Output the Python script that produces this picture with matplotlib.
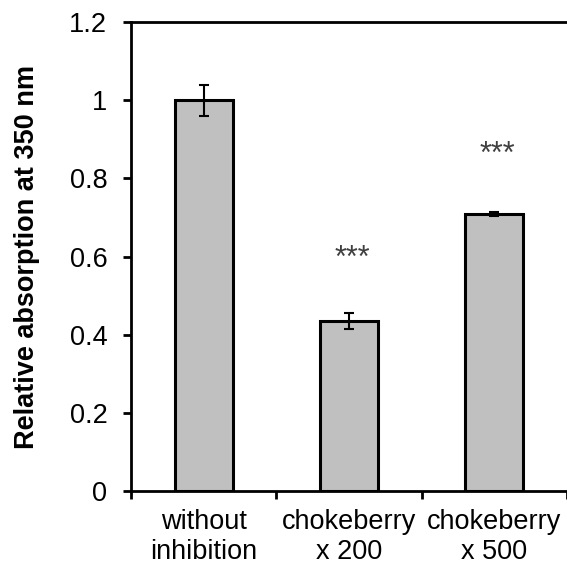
import numpy as np
import matplotlib.pyplot as plt

plt.rcParams['font.family'] = ['Liberation Sans', 'DejaVu Sans']

groups = ["without\ninhibition", "chokeberry\nx 200", "chokeberry\nx 500"]
means = [1.0, 0.435, 0.709]
errors = [0.04, 0.021, 0.004]
stars = ["", "***", "***"]
star_y = [None, 0.595, 0.86]

fig = plt.figure(figsize=(5.67, 5.67), dpi=100)
ax = fig.add_axes([0.231, 0.134, 0.769, 0.827])

x = np.arange(len(groups))
ax.bar(x, means, width=0.4, color="#c0c0c0", edgecolor="black", linewidth=2.2,
       yerr=errors, error_kw=dict(ecolor="black", elinewidth=1.5, capsize=3.8, capthick=1.5),
       zorder=2)

for xi, s, yy in zip(x, stars, star_y):
    if s:
        ax.text(xi + 0.02, yy, s, ha="center", va="center", fontsize=22, color="#404040")

ax.set_xlim(-0.5, 2.5)
ax.set_ylim(0, 1.2)
ax.set_yticks([0, 0.2, 0.4, 0.6, 0.8, 1.0, 1.2])
ax.set_yticklabels(["0", "0.2", "0.4", "0.6", "0.8", "1", "1.2"])
ax.set_xticks(x)
ax.set_xticklabels(groups, fontsize=19.5, linespacing=1.2)
ax.set_xticks([-0.5, 0.5, 1.5, 2.5], minor=True)
ax.tick_params(axis="x", which="major", length=0, pad=13)
ax.tick_params(axis="x", which="minor", length=6, width=2, direction="out")
ax.tick_params(axis="y", length=6, width=2, direction="out", labelsize=19.5, pad=11)

ax.set_ylabel("Relative absorption at 350 nm", fontsize=19.5, fontweight="bold", labelpad=21)

for side in ["left", "bottom", "top"]:
    ax.spines[side].set_linewidth(2)
ax.spines["right"].set_visible(False)

fig.savefig("out.png", dpi=100)
